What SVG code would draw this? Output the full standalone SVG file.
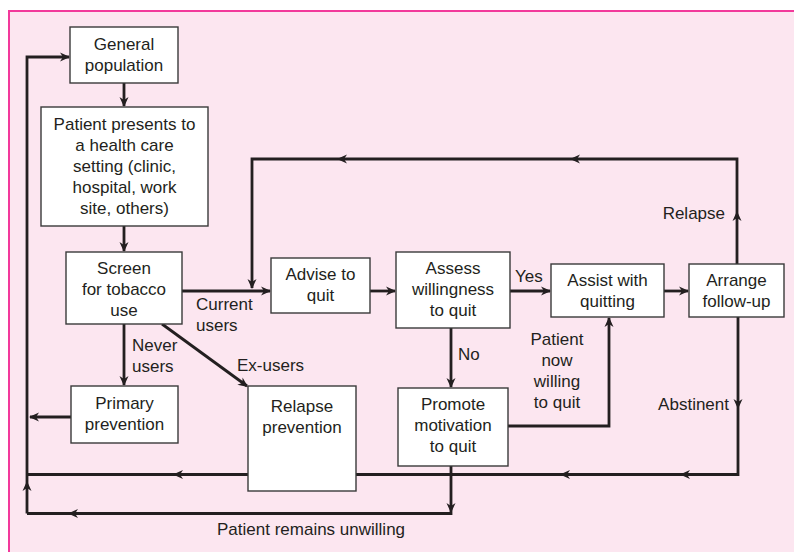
<svg xmlns="http://www.w3.org/2000/svg" xmlns:xlink="http://www.w3.org/1999/xlink" width="794" height="552" viewBox="0 0 794 552">
  <style>
    .frame { fill: #fce6f0; }
    .edge { stroke: #f2399b; stroke-width: 2; fill: none; }
    .box { fill: #ffffff; stroke: #3a3a3a; stroke-width: 1.4; }
    .wire { fill: none; stroke: #231f20; stroke-width: 2.8; stroke-linejoin: miter; stroke-linecap: butt; }
    .head { fill: #231f20; }
    text { font-family: "Liberation Sans", Arial, Helvetica, sans-serif; font-size: 17px; fill: #231f20; }
    .c { text-anchor: middle; }
    .e { text-anchor: end; }
  </style>
  <defs>
    <!-- arrowhead pointing right, tip at the origin -->
    <path id="ah" class="head" d="M0,0 L-10,-4.5 L-7,0 L-10,4.5 Z"/>
  </defs>

  <!-- background panel with pink rule on top and left -->
  <rect class="frame" x="9" y="10" width="785" height="542"/>
  <path class="edge" d="M9,552 V11 H794"/>

  <!-- connectors -->
  <g id="connectors">
    <path class="wire" d="M124,83 V106"/>
    <use xlink:href="#ah" transform="translate(124,107) rotate(90)"/>

    <path class="wire" d="M124,226 V251"/>
    <use xlink:href="#ah" transform="translate(124,252) rotate(90)"/>

    <path class="wire" d="M182,291 H270"/>
    <use xlink:href="#ah" transform="translate(271,291)"/>

    <!-- relapse loop back to advice -->
    <path class="wire" d="M737,264 V159 H252 V288"/>
    <use xlink:href="#ah" transform="translate(737,211) rotate(-90)"/>
    <use xlink:href="#ah" transform="translate(570,159) rotate(180)"/>
    <use xlink:href="#ah" transform="translate(337,159) rotate(180)"/>
    <use xlink:href="#ah" transform="translate(252,289) rotate(90)"/>

    <path class="wire" d="M124,324 V385"/>
    <use xlink:href="#ah" transform="translate(124,386) rotate(90)"/>

    <path class="wire" d="M162,324 L247,386"/>
    <use xlink:href="#ah" transform="translate(248,387) rotate(36.1)"/>

    <path class="wire" d="M370,291 H395"/>
    <use xlink:href="#ah" transform="translate(396,291)"/>

    <path class="wire" d="M510,291 H550"/>
    <use xlink:href="#ah" transform="translate(551,291)"/>

    <path class="wire" d="M664,291 H688"/>
    <use xlink:href="#ah" transform="translate(689,291)"/>

    <path class="wire" d="M451,328 V387"/>
    <use xlink:href="#ah" transform="translate(451,388) rotate(90)"/>

    <path class="wire" d="M508,426 H609 V318"/>
    <use xlink:href="#ah" transform="translate(609,317) rotate(-90)"/>

    <!-- abstinent path back to the population -->
    <path class="wire" d="M738,317 V474.5 H27"/>
    <use xlink:href="#ah" transform="translate(738,409) rotate(90)"/>
    <use xlink:href="#ah" transform="translate(680,474.5) rotate(180)"/>
    <use xlink:href="#ah" transform="translate(560,474.5) rotate(180)"/>
    <use xlink:href="#ah" transform="translate(173,474.5) rotate(180)"/>

    <!-- patient remains unwilling -->
    <path class="wire" d="M451,466 V513.5 H27"/>
    <use xlink:href="#ah" transform="translate(451,513) rotate(90)"/>
    <use xlink:href="#ah" transform="translate(68,513.5) rotate(180)"/>

    <path class="wire" d="M27,513.5 V57 H69"/>
    <use xlink:href="#ah" transform="translate(27,481) rotate(-90)"/>
    <use xlink:href="#ah" transform="translate(70,57)"/>

    <path class="wire" d="M71,417 H30"/>
    <use xlink:href="#ah" transform="translate(29,417) rotate(180)"/>
  </g>

  <!-- connector labels -->
  <g id="labels">
    <text x="196" y="310">Current</text>
    <text x="196" y="331">users</text>
    <text x="132" y="351">Never</text>
    <text x="132" y="372">users</text>
    <text x="237" y="371">Ex-users</text>
    <text x="515" y="282">Yes</text>
    <text x="458" y="360">No</text>
    <text class="c" x="557" y="345">Patient</text>
    <text class="c" x="557" y="366">now</text>
    <text class="c" x="557" y="387">willing</text>
    <text class="c" x="557" y="408">to quit</text>
    <text class="e" x="725" y="219">Relapse</text>
    <text class="e" x="729" y="410">Abstinent</text>
    <text x="217" y="535">Patient remains unwilling</text>
  </g>

  <g id="general-population">
    <rect class="box" x="70" y="27" width="108" height="56"/>
    <text class="c" x="124" y="50">General</text>
    <text class="c" x="124" y="71">population</text>
  </g>

  <g id="patient-presents">
    <rect class="box" x="41" y="107" width="167" height="119"/>
    <text class="c" x="124.5" y="130">Patient presents to</text>
    <text class="c" x="124.5" y="151">a health care</text>
    <text class="c" x="124.5" y="172">setting (clinic,</text>
    <text class="c" x="124.5" y="193">hospital, work</text>
    <text class="c" x="124.5" y="214">site, others)</text>
  </g>

  <g id="screen">
    <rect class="box" x="66" y="252" width="116" height="72"/>
    <text class="c" x="124" y="274">Screen</text>
    <text class="c" x="124" y="295">for tobacco</text>
    <text class="c" x="124" y="316">use</text>
  </g>

  <g id="primary-prevention">
    <rect class="box" x="71" y="386" width="107" height="57"/>
    <text class="c" x="124.5" y="409">Primary</text>
    <text class="c" x="124.5" y="430">prevention</text>
  </g>

  <g id="relapse-prevention">
    <rect class="box" x="248" y="386" width="108" height="105"/>
    <text class="c" x="302" y="412">Relapse</text>
    <text class="c" x="302" y="433">prevention</text>
  </g>

  <g id="advise">
    <rect class="box" x="271" y="258" width="99" height="55"/>
    <text class="c" x="320.5" y="280">Advise to</text>
    <text class="c" x="320.5" y="301">quit</text>
  </g>

  <g id="assess">
    <rect class="box" x="396" y="252" width="114" height="76"/>
    <text class="c" x="453" y="274">Assess</text>
    <text class="c" x="453" y="295">willingness</text>
    <text class="c" x="453" y="316">to quit</text>
  </g>

  <g id="assist">
    <rect class="box" x="551" y="264" width="113" height="53"/>
    <text class="c" x="607.5" y="286">Assist with</text>
    <text class="c" x="607.5" y="307">quitting</text>
  </g>

  <g id="arrange">
    <rect class="box" x="689" y="264" width="95" height="53"/>
    <text class="c" x="736.5" y="286">Arrange</text>
    <text class="c" x="736.5" y="307">follow-up</text>
  </g>

  <g id="promote">
    <rect class="box" x="398" y="388" width="110" height="78"/>
    <text class="c" x="453" y="410">Promote</text>
    <text class="c" x="453" y="431">motivation</text>
    <text class="c" x="453" y="452">to quit</text>
  </g>
</svg>
